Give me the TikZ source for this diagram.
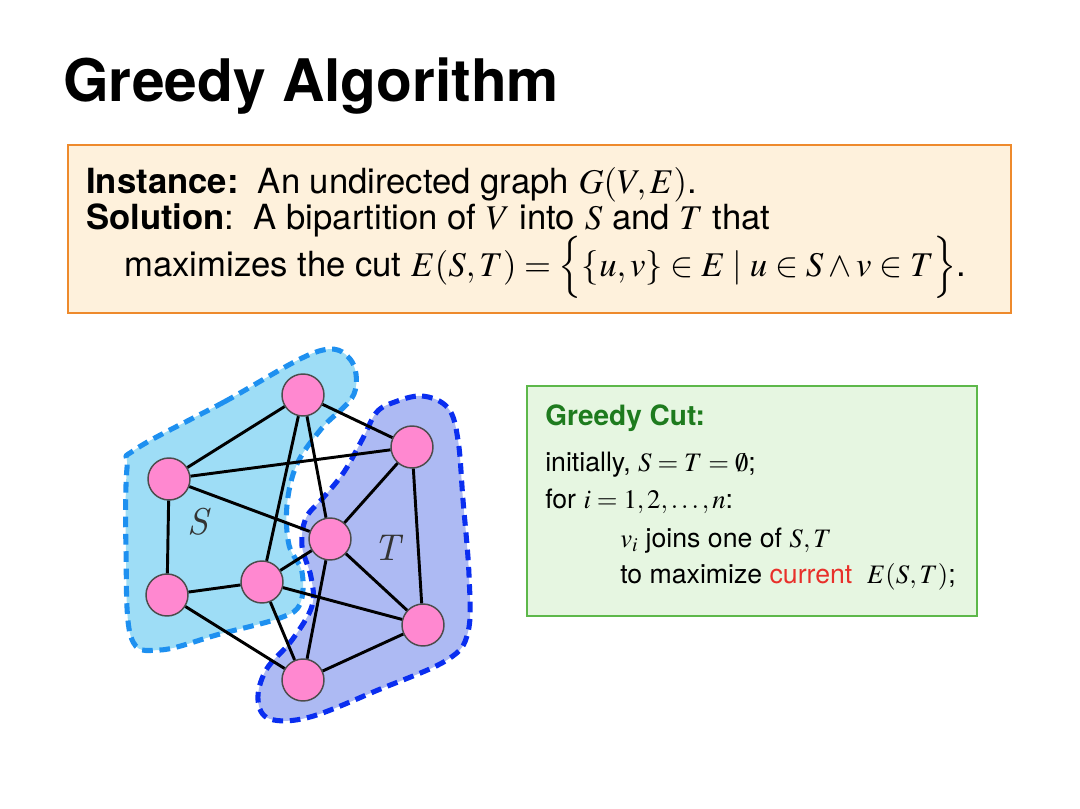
\documentclass[tikz,border=0pt]{standalone}
\usepackage{mathptmx}
\usepackage[no-math]{fontspec}
\setmainfont{TeX Gyre Heros}
\newfontfamily\lmit{lmroman10-italic.otf}
\definecolor{ofill}{HTML}{FEF1DC}
\definecolor{oline}{HTML}{EE8A2C}
\definecolor{gfill}{HTML}{E6F6E1}
\definecolor{gline}{HTML}{5DB84A}
\definecolor{ggreen}{HTML}{1E7B1E}
\definecolor{curred}{HTML}{E8302A}
\definecolor{vpink}{HTML}{FF88D0}
\definecolor{sfill}{HTML}{9EDDF6}
\definecolor{sline}{HTML}{1E90F0}
\definecolor{tfill}{HTML}{ADBAF3}
\definecolor{tline}{HTML}{0A2EF0}
\tikzstyle{vertex}=[circle, draw=black!70, fill=vpink, line width=1.1pt, minimum size=31.5pt, inner sep=0pt]
\tikzstyle{edge}=[draw=black, line width=2.2pt]
\tikzstyle{txt}=[inner sep=0pt, anchor=base west, font=\fontsize{26}{31}\selectfont]
\tikzstyle{gtxt}=[inner sep=0pt, anchor=base west, font=\fontsize{20}{24}\selectfont]
\tikzstyle{gtitle}=[inner sep=0pt, anchor=base west, text=ggreen, font=\fontsize{21}{25}\selectfont\bfseries]
\tikzstyle{sreg}=[draw=sline, fill=sfill, line width=3.8pt, dash pattern=on 8pt off 5pt]
\tikzstyle{treg}=[draw=tline, fill=tfill, line width=3.8pt, dash pattern=on 8pt off 5pt]
\tikzstyle{lab}=[inner sep=0pt, text=black!80, font=\fontsize{28}{32}\selectfont\lmit]

\begin{document}
\begin{tikzpicture}[x=0.75pt, y=-0.75pt]
		   \useasboundingbox (0,0) rectangle (1080,809);
		   \node[inner sep=0pt, anchor=base west, font=\fontsize{44}{52}\selectfont\bfseries] (t) at (63,102) {Greedy Algorithm};
		   % problem box
		   \node[draw=oline, fill=ofill, line width=1.5pt, minimum width=707.25pt, minimum height=126pt, inner sep=0pt] (p) at (539.5,229) {};
		   \node[txt] (a) at (86,194) {\textbf{Instance:}\ \ An undirected graph $G(V,E)$.};
		   \node[txt] (b) at (86,229) {\textbf{Solution}:\ \ A bipartition of $V$ into $S$ and $T$ that};
		   \node[txt] (c) at (124,276) {maximizes the cut $E(S,T)=\Big\{\{u,v\}\in E\mid u\in S\wedge v\in T\Big\}$.};
		   % greedy box
		   \node[draw=gline, fill=gfill, line width=1.5pt, minimum width=337.5pt, minimum height=172.5pt, inner sep=0pt] (g) at (752,501) {};
		   \node[gtitle] (g0) at (545,425) {Greedy Cut:};
		   \node[gtxt] (g1) at (545,471) {initially, $S=T=\emptyset$;};
		   \node[gtxt] (g2) at (545,508) {for $i=1,2,\ldots,n$:};
		   \node[gtxt] (g3) at (620,547) {$v_i$ joins one of $S,T$};
		   \node[gtxt] (g4) at (620,583) {to maximize \textcolor{curred}{current}\ \ $E(S,T)$;};
		   % the two sides of the cut
		   \draw[sreg] plot[smooth cycle, tension=0.6] coordinates {(136,449) (224,402) (316,352) (350,359) (354,394) (322,428) (297,464) (287,505) (289,545) (302,572) (300,604) (280,618) (220,634) (160,650) (131,637) (126,550) (127,468)};
		   \draw[treg] plot[smooth cycle, tension=0.6] coordinates {(392,403) (422,396) (448,408) (458,440) (463,500) (469,575) (468,632) (447,660) (378,690) (310,717) (270,719) (258,700) (266,670) (292,640) (312,606) (311,577) (302,546) (306,518) (323,498) (344,472) (363,438) (376,413)};
		   \node[lab] (S) at (198,522) {S};
		   \node[lab] (T) at (387,548) {T};
		   % vertices
		   \node[vertex] (1) at (303,395) {};
		   \node[vertex] (2) at (412,447) {};
		   \node[vertex] (3) at (169,479) {};
		   \node[vertex] (4) at (330,539) {};
		   \node[vertex] (5) at (167,595) {};
		   \node[vertex] (6) at (262,582) {};
		   \node[vertex] (7) at (423,625) {};
		   \node[vertex] (8) at (303,680) {};
		   \foreach \u/\v in {1/3,1/2,1/6,1/4,3/2,3/4,3/5,5/6,5/8,6/4,6/7,6/8,4/2,4/7,4/8,2/7,7/8}
		   	\draw[edge] (\u) -- (\v);
	   \end{tikzpicture}
\end{document}
